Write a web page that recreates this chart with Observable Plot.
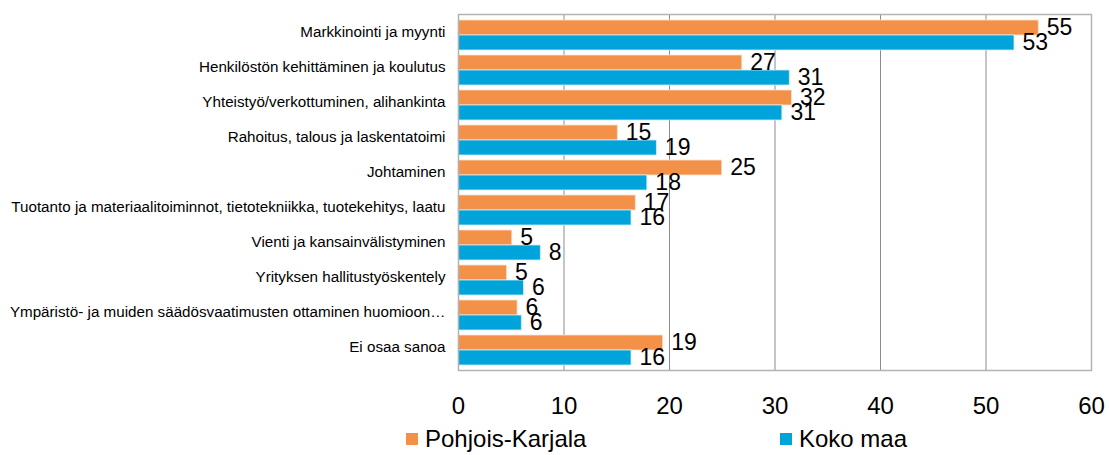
<!DOCTYPE html>
<html>
<head>
<meta charset="utf-8">
<script src="https://cdn.jsdelivr.net/npm/d3@7"></script>
<script src="https://cdn.jsdelivr.net/npm/@observablehq/plot@0.6"></script>
<style>
  html, body { margin: 0; padding: 0; background: #fff; }
  #chart { width: 1109px; height: 455px; font-family: "Liberation Sans Narrow", "Liberation Sans", sans-serif; }
  .legend { display: flex; align-items: center; padding-left: 406px; height: 33px; font-size: 24px; color: #000; }
  .legend .item { display: flex; align-items: center; }
  .legend .sw { width: 12px; height: 12px; margin-right: 7px; }
</style>
</head>
<body>
<div id="chart"></div>
<script>
const categories = [
  "Markkinointi ja myynti",
  "Henkilöstön kehittäminen ja koulutus",
  "Yhteistyö/verkottuminen, alihankinta",
  "Rahoitus, talous ja laskentatoimi",
  "Johtaminen",
  "Tuotanto ja materiaalitoiminnot, tietotekniikka, tuotekehitys, laatu",
  "Vienti ja kansainvälistyminen",
  "Yrityksen hallitustyöskentely",
  "Ympäristö- ja muiden säädösvaatimusten ottaminen huomioon…",
  "Ei osaa sanoa"
];
const series = ["Pohjois-Karjala", "Koko maa"];
const pohjoisKarjala = [55.0, 26.9, 31.6, 15.1, 25.0, 16.8, 5.1, 4.6, 5.6, 19.4];
const kokoMaa = [52.7, 31.4, 30.7, 18.8, 17.9, 16.4, 7.8, 6.2, 6.0, 16.4];
const xTicks = [0, 10, 20, 30, 40, 50, 60];
const colors = ["#F39149", "#00A3DA"];

const pkRows = categories.map((c, i) => ({category: c, series: series[0], value: pohjoisKarjala[i]}));
const kmRows = categories.map((c, i) => ({category: c, series: series[1], value: kokoMaa[i]}));

const fontFamily = '"Liberation Sans Narrow", "Liberation Sans", sans-serif';

const plot = Plot.plot({
  width: 1109,
  height: 422,
  marginTop: 14,
  marginBottom: 52,
  marginLeft: 458,
  marginRight: 18,
  style: {fontFamily, background: "#fff", color: "#000"},
  x: {domain: [0, 60], ticks: xTicks, label: null},
  y: {domain: categories, paddingInner: 0.157, paddingOuter: 0.08, label: null},
  color: {domain: series, range: colors},
  marks: [
    Plot.gridX(xTicks, {stroke: "#8c8c8c", strokeOpacity: 1, strokeWidth: 1}),
    Plot.barX(pkRows, {x: "value", y: "category", fill: "series", insetBottom: 15, stroke: "#fbe0cc", strokeWidth: 0.8}),
    Plot.barX(kmRows, {x: "value", y: "category", fill: "series", insetTop: 15, stroke: "#cfeef8", strokeWidth: 0.8}),
    Plot.frame({stroke: "#b3b3b3", strokeWidth: 1.5}),
    Plot.text(pkRows, {x: "value", y: "category", text: d => String(Math.round(d.value)), dx: 8, dy: -7.5, textAnchor: "start", fontSize: 23, fill: "#000"}),
    Plot.text(kmRows, {x: "value", y: "category", text: d => String(Math.round(d.value)), dx: 8, dy: 7, textAnchor: "start", fontSize: 23, fill: "#000"}),
    Plot.axisX({ticks: xTicks, tickSize: 0, tickPadding: 26, fontSize: 24, label: null}),
    Plot.axisY({tickSize: 0, tickPadding: 13, fontSize: 15.2, dy: -3, label: null})
  ]
});

const chart = document.getElementById("chart");
chart.appendChild(plot);

const legend = document.createElement("div");
legend.className = "legend";
series.forEach((s, i) => {
  const item = document.createElement("div");
  item.className = "item";
  if (i === 0) item.style.width = "374px";
  const sw = document.createElement("span");
  sw.className = "sw";
  sw.style.background = colors[i];
  const t = document.createElement("span");
  t.textContent = s;
  item.appendChild(sw);
  item.appendChild(t);
  legend.appendChild(item);
});
chart.appendChild(legend);
</script>
</body>
</html>
